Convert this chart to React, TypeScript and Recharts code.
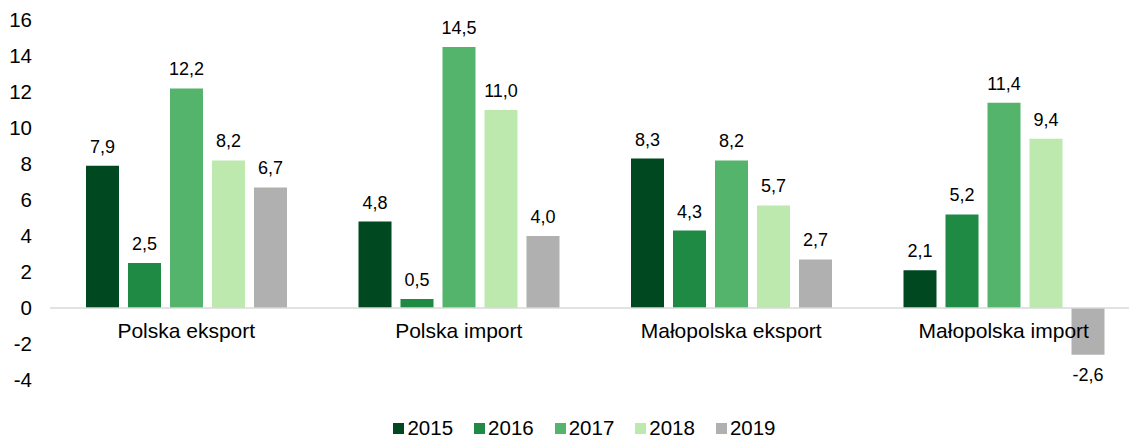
import { BarChart, Bar, XAxis, YAxis, Legend, ReferenceLine, LabelList } from 'recharts';

const categories = ['Polska eksport', 'Polska import', 'Małopolska eksport', 'Małopolska import'];
const years = ['2015', '2016', '2017', '2018', '2019'];
const v2015 = [7.9, 4.8, 8.3, 2.1];
const v2016 = [2.5, 0.5, 4.3, 5.2];
const v2017 = [12.2, 14.5, 8.2, 11.4];
const v2018 = [8.2, 11.0, 5.7, 9.4];
const v2019 = [6.7, 4.0, 2.7, -2.6];
const yTicks = [-4, -2, 0, 2, 4, 6, 8, 10, 12, 14, 16];

const colors = ['#004820', '#1f8a44', '#55b46b', '#bee9ae', '#b0b0b0'];
const series = [v2015, v2016, v2017, v2018, v2019];

const data = categories.map((name, i) => {
  const row: Record<string, string | number> = { name };
  years.forEach((y, k) => { row[y] = series[k][i]; });
  return row;
});

const FONT = 'Liberation Sans, Arial, sans-serif';
const FS = 20.5;
const FS_LABEL = 18;
const W = 1129;
const H = 437;
const LEGEND_H = 26;
const M = { top: 20, right: -11, bottom: 56 - LEGEND_H, left: 0 };
const plotH = 361;

const fmt = (v: number) => v.toFixed(1).replace('.', ',');

// category labels sit just under the zero line, not at the bottom of the plot
const CatTick = ({ x, y, payload }: any) => {
  const zeroShift = plotH * (4 / 20);
  return (
    <text x={x} y={y - zeroShift + 22} textAnchor="middle" fill="#000" fontSize={21} fontFamily={FONT}>
      {payload.value}
    </text>
  );
};

const LegendContent = () => (
  <div style={{ display: 'flex', justifyContent: 'center', gap: 21, height: LEGEND_H, paddingLeft: 40, alignItems: 'center', fontFamily: FONT, fontSize: FS, color: '#000' }}>
    {years.map((y, k) => (
      <span key={y} style={{ display: 'flex', alignItems: 'center', lineHeight: 1.2 }}>
        <span style={{ width: 11, height: 11, background: colors[k], marginRight: 3, display: 'inline-block' }} />
        {y}
      </span>
    ))}
  </div>
);

export default function App() {
  return (
    <div style={{ position: 'absolute', left: 0, top: 0, width: W, height: H, background: '#fff' }}>
      <BarChart width={W} height={H} data={data} margin={M} barGap={9} barCategoryGap={36}>
        <XAxis dataKey="name" axisLine={false} tickLine={false} tick={<CatTick />} interval={0} height={1} />
        <YAxis
          domain={[-4, 16]}
          ticks={yTicks}
          axisLine={false}
          tickLine={false}
          tickSize={0}
          tickMargin={18}
          width={50}
          interval={0}
          tick={{ fill: '#000', fontSize: FS, fontFamily: FONT }}
        />
        <ReferenceLine y={0} stroke="#d9d9d9" strokeWidth={1.5} />
        {years.map((y, k) => (
          <Bar key={y} dataKey={y} fill={colors[k]} isAnimationActive={false}>
            <LabelList
              dataKey={y}
              position="top"
              offset={13}
              formatter={(v: any) => fmt(Number(v))}
              style={{ fill: '#000', fontSize: FS_LABEL, fontFamily: FONT }}
            />
          </Bar>
        ))}
        <Legend verticalAlign="bottom" height={LEGEND_H} wrapperStyle={{ left: 0, top: 415, width: W, height: LEGEND_H, boxSizing: 'border-box' }} content={<LegendContent />} />
      </BarChart>
    </div>
  );
}
